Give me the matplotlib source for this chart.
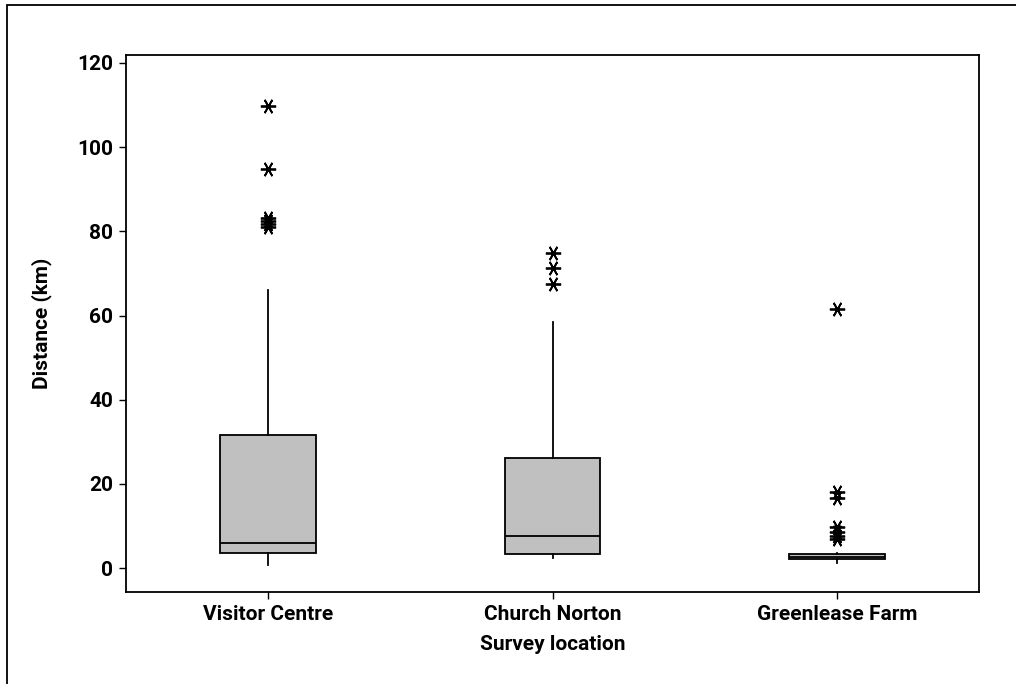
import matplotlib
matplotlib.use("Agg")
import matplotlib.pyplot as plt
from matplotlib.patches import Rectangle

# box statistics (km)
locations = ["Visitor Centre", "Church Norton", "Greenlease Farm"]
whisker_low = [0.7, 2.4, 1.2]
q1 = [3.6, 3.3, 2.1]
median = [5.9, 7.6, 2.6]
q3 = [31.6, 26.1, 3.3]
whisker_high = [66.0, 58.4, 3.6]
outliers_vc = [109.7, 94.8, 83.2, 82.4, 81.7, 81.0]
outliers_cn = [74.8, 71.3, 67.5]
outliers_gf = [61.5, 18.0, 16.6, 9.7, 8.6, 7.6, 6.9]
outliers = [outliers_vc, outliers_cn, outliers_gf]

plt.rcParams['font.family'] = ['Roboto', 'DejaVu Sans']

fig = plt.figure(figsize=(10.16, 6.84), dpi=100)
ax = fig.add_axes([126 / 1016, 1 - 592 / 684, (979 - 126) / 1016, (592 - 55) / 684])

# outer frame of the chart area (runs off the bottom/right edge)
fig.patches.append(Rectangle((7 / 1016, -0.1), 1.2, 1 - 5 / 684 + 0.1,
                             transform=fig.transFigure, fill=False,
                             edgecolor='black', linewidth=1.3))

stats = []
for i in range(len(locations)):
    stats.append({'label': locations[i], 'whislo': whisker_low[i], 'q1': q1[i],
                  'med': median[i], 'q3': q3[i], 'whishi': whisker_high[i],
                  'fliers': outliers[i]})

ax.bxp(stats, positions=[1, 2, 3], widths=0.337, patch_artist=True, showcaps=False,
       boxprops=dict(facecolor='#c0c0c0', edgecolor='black', linewidth=1.3),
       medianprops=dict(color='black', linewidth=1.3),
       whiskerprops=dict(color='black', linewidth=1.3),
       flierprops=dict(marker=(6, 2, 90), markersize=11, markeredgecolor='black',
                       markeredgewidth=1.3, linestyle='none'))

ax.set_xlim(0.5, 3.5)
ax.set_ylim(-5.7, 121.9)
ax.set_yticks([0, 20, 40, 60, 80, 100, 120])
ax.tick_params(direction='out', length=5, width=1, labelsize=15, pad=4)
for lbl in ax.get_xticklabels() + ax.get_yticklabels():
    lbl.set_fontweight('bold')
for s in ax.spines.values():
    s.set_linewidth(1.3)

ax.set_xlabel('Survey location', fontsize=15, fontweight='bold', labelpad=8)
ax.set_ylabel('Distance (km)', fontsize=15, fontweight='bold', labelpad=18)

fig.savefig('out.png', dpi=100)
